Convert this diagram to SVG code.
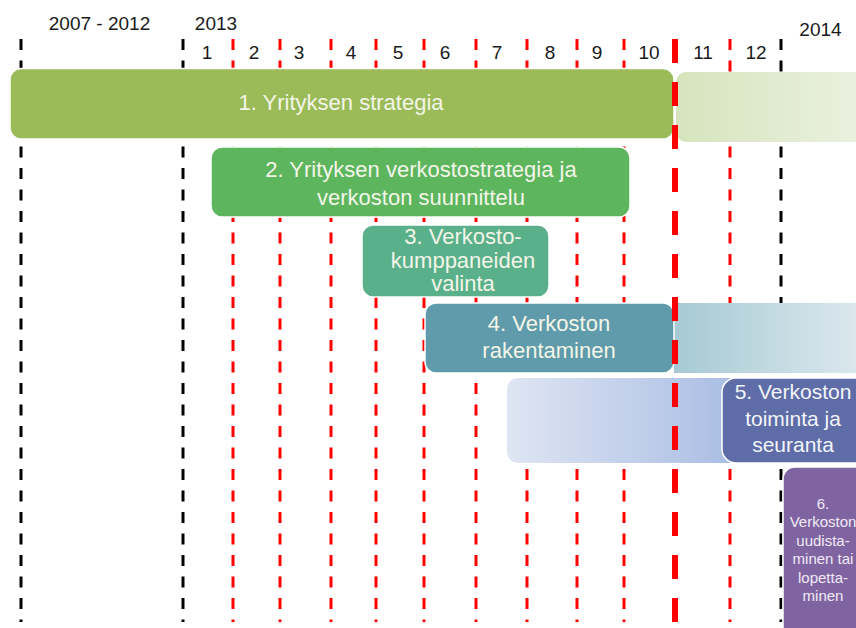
<svg xmlns="http://www.w3.org/2000/svg" width="856" height="628" viewBox="0 0 856 628">
<style>
.hdr{font-family:"Liberation Sans",Arial,sans-serif;font-size:19px;fill:#1a1a1a;text-anchor:middle}
.bt{font-family:"Liberation Sans",Arial,sans-serif;font-size:22px;fill:#f3f5e8;text-anchor:middle}
.bt5{font-family:"Liberation Sans",Arial,sans-serif;font-size:21px;fill:#f3f5f8;text-anchor:middle}
.bt6{font-family:"Liberation Sans",Arial,sans-serif;font-size:15px;fill:#f0eaf5;text-anchor:middle}
.thin{stroke-width:3;stroke-dasharray:11 10.5;fill:none}
.red{stroke:#ff0000}
.blk{stroke:#000000}
.thick{stroke:#ff0000;stroke-width:6;stroke-dasharray:24 19;fill:none}
.box{stroke:#ffffff;stroke-width:1.5}
</style>
<defs>
<linearGradient id="g1" x1="0" y1="0" x2="1" y2="0"><stop offset="0" stop-color="#d6e4bd"/><stop offset="1" stop-color="#ecf2e2"/></linearGradient>
<linearGradient id="g4" x1="0" y1="0" x2="1" y2="0"><stop offset="0" stop-color="#a6cad4"/><stop offset="1" stop-color="#dfeaef"/></linearGradient>
<linearGradient id="g5" x1="0" y1="0" x2="1" y2="0"><stop offset="0" stop-color="#dfe5f3"/><stop offset="1" stop-color="#a6bbe3"/></linearGradient>
</defs>
<rect width="856" height="628" fill="#ffffff"/>
<g id="header">
<text class="hdr" x="99.5" y="30">2007 - 2012</text>
<text class="hdr" x="216" y="30">2013</text>
<text class="hdr" x="820.5" y="36">2014</text>
<text class="hdr" x="207" y="59">1</text>
<text class="hdr" x="254" y="59">2</text>
<text class="hdr" x="299" y="59">3</text>
<text class="hdr" x="351" y="59">4</text>
<text class="hdr" x="398" y="59">5</text>
<text class="hdr" x="445" y="59">6</text>
<text class="hdr" x="497" y="59">7</text>
<text class="hdr" x="550" y="59">8</text>
<text class="hdr" x="597" y="59">9</text>
<text class="hdr" x="649" y="59">10</text>
<text class="hdr" x="703" y="59">11</text>
<text class="hdr" x="756" y="59">12</text>
</g>
<g id="gridlines">
<line class="thin blk" x1="21" y1="39" x2="21" y2="622"/>
<line class="thin blk" x1="183" y1="39" x2="183" y2="622"/>
<line class="thin red" x1="233" y1="39" x2="233" y2="622"/>
<line class="thin red" x1="280" y1="39" x2="280" y2="622"/>
<line class="thin red" x1="331" y1="39" x2="331" y2="622"/>
<line class="thin red" x1="376" y1="39" x2="376" y2="622"/>
<line class="thin red" x1="424" y1="39" x2="424" y2="622"/>
<line class="thin red" x1="476" y1="39" x2="476" y2="622"/>
<line class="thin red" x1="527" y1="39" x2="527" y2="622"/>
<line class="thin red" x1="577" y1="39" x2="577" y2="622"/>
<line class="thin red" x1="624" y1="39" x2="624" y2="622"/>
<line class="thin red" x1="730" y1="39" x2="730" y2="622"/>
<line class="thin blk" x1="781" y1="39" x2="781" y2="622"/>
</g>
<g id="node1">
<rect x="676" y="72" width="200" height="70" rx="10" fill="url(#g1)"/>
<rect class="box" x="10" y="68.5" width="664" height="70.5" rx="11" fill="#9bbb59"/>
<text class="bt" x="341" y="110">1. Yrityksen strategia</text>
</g>
<g id="node2">
<rect class="box" x="211" y="147" width="419" height="70" rx="11" fill="#5db55e"/>
<text class="bt" x="421" y="177">2. Yrityksen verkostostrategia ja</text>
<text class="bt" x="421" y="205">verkoston suunnittelu</text>
</g>
<g id="node3">
<rect class="box" x="362" y="225" width="187" height="72" rx="11" fill="#5ab08b"/>
<text class="bt" x="463" y="244">3. Verkosto-</text>
<text class="bt" x="463" y="268">kumppaneiden</text>
<text class="bt" x="463" y="291">valinta</text>
</g>
<g id="node4">
<rect x="674" y="303" width="200" height="70" fill="url(#g4)"/>
<rect class="box" x="425" y="303" width="249" height="70" rx="11" fill="#5f9baa"/>
<text class="bt" x="549" y="331">4. Verkoston</text>
<text class="bt" x="549" y="358">rakentaminen</text>
</g>
<g id="node5">
<rect x="507" y="378" width="240" height="85" rx="11" fill="url(#g5)"/>
<rect class="box" x="722" y="378" width="160" height="85" rx="14" fill="#5e6ca8"/>
<text class="bt5" x="793" y="399">5. Verkoston</text>
<text class="bt5" x="793" y="426">toiminta ja</text>
<text class="bt5" x="793" y="452">seuranta</text>
</g>
<g id="node6">
<rect class="box" x="783" y="467" width="100" height="180" rx="12" fill="#8064a2"/>
<text class="bt6" x="823" y="509">6.</text>
<text class="bt6" x="823" y="527">Verkoston</text>
<text class="bt6" x="823" y="545.5">uudista-</text>
<text class="bt6" x="823" y="564">minen tai</text>
<text class="bt6" x="823" y="582.5">lopetta-</text>
<text class="bt6" x="823" y="601">minen</text>
</g>
<g id="current-line">
<line class="thick" x1="675" y1="39" x2="675" y2="622"/>
</g>
</svg>
